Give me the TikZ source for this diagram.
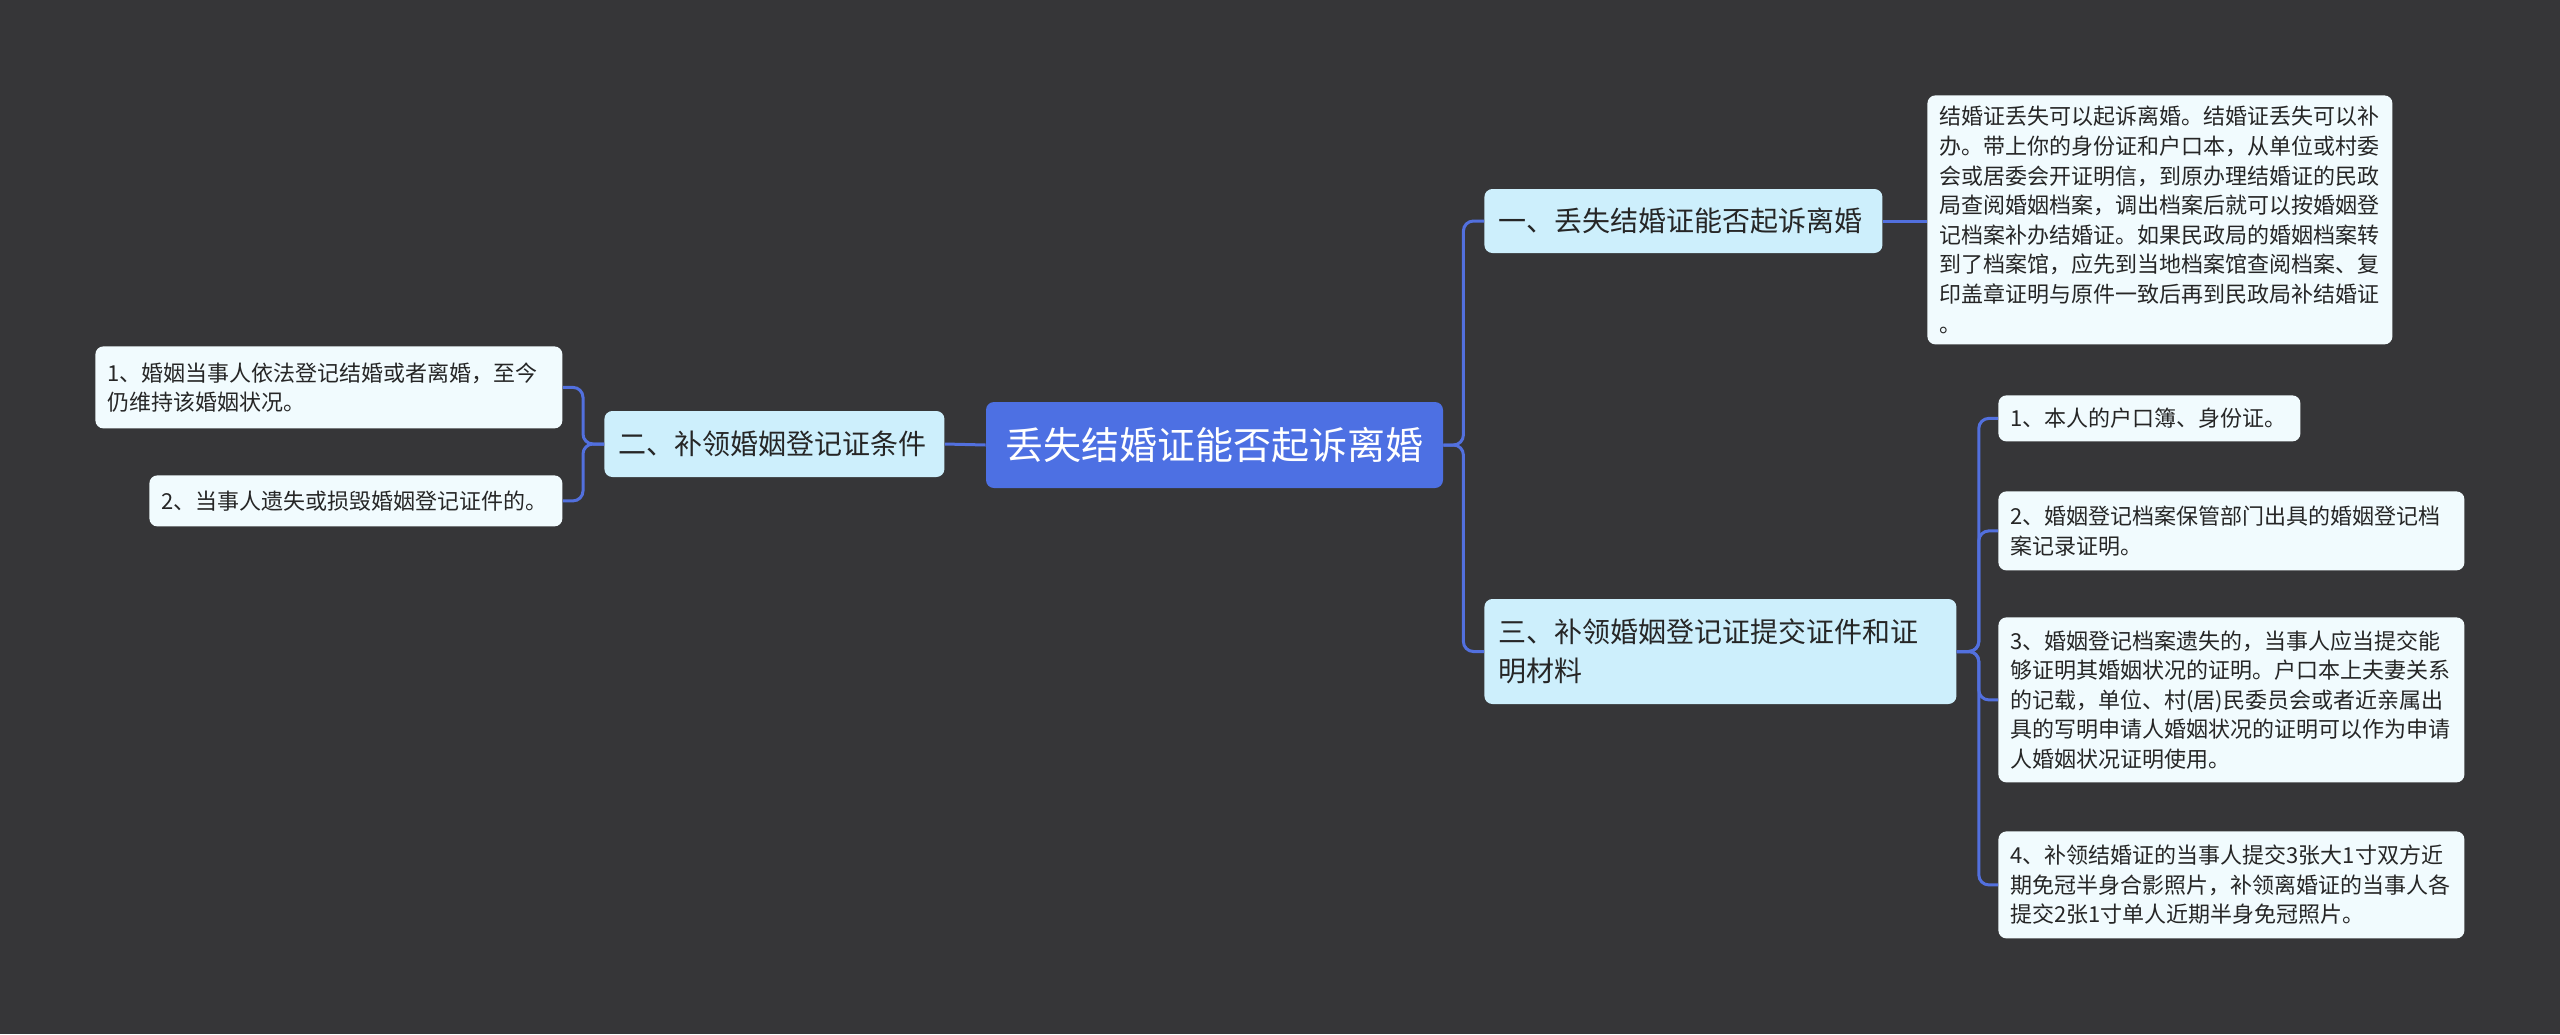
\documentclass[tikz,border=0pt]{standalone}
\usepackage{fontspec}
\setmainfont{Noto Sans CJK SC}
\definecolor{bgdark}{RGB}{54,54,56}
\definecolor{rootblue}{RGB}{77,112,227}
\definecolor{linkblue}{RGB}{82,112,222}
\definecolor{subcyan}{RGB}{205,239,252}
\definecolor{leafwhite}{RGB}{241,251,254}

\begin{document}
\begin{tikzpicture}[x=0.5pt, y=-0.5pt,
  root/.style = {fill=rootblue, text=white, rounded corners=4pt, font=\fontsize{19pt}{24pt}\selectfont, minimum width=228.5pt, minimum height=43pt, inner sep=0pt},
  sub/.style = {fill=subcyan, text=black!85, rounded corners=4pt, font=\fontsize{14pt}{19.5pt}\selectfont, align=left, inner xsep=7pt, inner ysep=0pt, anchor=west},
  leaf/.style = {fill=leafwhite, text=black!85, rounded corners=4pt, font=\fontsize{11pt}{14.8pt}\selectfont, align=left, inner xsep=6pt, inner ysep=0pt, anchor=north west},
  link/.style = {draw=linkblue, line width=1.5pt, rounded corners=5pt}]
  \fill[bgdark] (0,0) rectangle (2560,1034);
  \useasboundingbox (0,0) rectangle (2560,1034);

  \node[root] (root) at (1214.5,445) {丢失结婚证能否起诉离婚};

  \node[sub, text width=185pt, minimum height=32pt] (b1) at (1484,221) {一、丢失结婚证能否起诉离婚};
  \node[sub, text width=156pt, minimum height=33pt] (b2) at (604,444) {二、补领婚姻登记证条件};
  \node[sub, text width=222pt, minimum height=52.5pt] (b3) at (1484,651.5) {三、补领婚姻登记证提交证件和证\\明材料};

  \node[leaf, text width=220.5pt, minimum height=124.5pt] (l1) at (1927,95) {结婚证丢失可以起诉离婚。结婚证丢失可以补\\办。带上你的身份证和户口本，从单位或村委\\会或居委会开证明信，到原办理结婚证的民政\\局查阅婚姻档案，调出档案后就可以按婚姻登\\记档案补办结婚证。如果民政局的婚姻档案转\\到了档案馆，应先到当地档案馆查阅档案、复\\印盖章证明与原件一致后再到民政局补结婚证\\。};

  \node[leaf, text width=221.5pt, minimum height=41pt] (l21) at (95,346) {1、婚姻当事人依法登记结婚或者离婚，至今\\仍维持该婚姻状况。};
  \node[leaf, text width=194.5pt, minimum height=25.5pt] (l22) at (149,475) {2、当事人遗失或损毁婚姻登记证件的。};

  \node[leaf, text width=139pt, minimum height=23pt] (l31) at (1998,395) {1、本人的户口簿、身份证。};
  \node[leaf, text width=221pt, minimum height=39.5pt] (l32) at (1998,491) {2、婚姻登记档案保管部门出具的婚姻登记档\\案记录证明。};
  \node[leaf, text width=221pt, minimum height=82.5pt] (l33) at (1998,617) {3、婚姻登记档案遗失的，当事人应当提交能\\够证明其婚姻状况的证明。户口本上夫妻关系\\的记载，单位、村(居)民委员会或者近亲属出\\具的写明申请人婚姻状况的证明可以作为申请\\人婚姻状况证明使用。};
  \node[leaf, text width=221pt, minimum height=53.5pt] (l34) at (1998,831) {4、补领结婚证的当事人提交3张大1寸双方近\\期免冠半身合影照片，补领离婚证的当事人各\\提交2张1寸单人近期半身免冠照片。};

  % root to main branches
  \draw[link] (root.east) -- ++(20,0) |- (b1.west);
  \draw[link] (root.east) -- ++(20,0) |- (b3.west);
  \draw[link] (root.west) -- (b2.east);

  % branches to leaves
  \draw[link] (b1.east) -- (b1.east -| l1.west);
  \draw[link] (b2.west) -- ++(-21,0) |- (l21.east);
  \draw[link] (b2.west) -- ++(-21,0) |- (l22.east);
  \foreach \n in {l31,l32,l33,l34}
    \draw[link] (b3.east) -- ++(22,0) |- (\n.west);
\end{tikzpicture}
\end{document}
